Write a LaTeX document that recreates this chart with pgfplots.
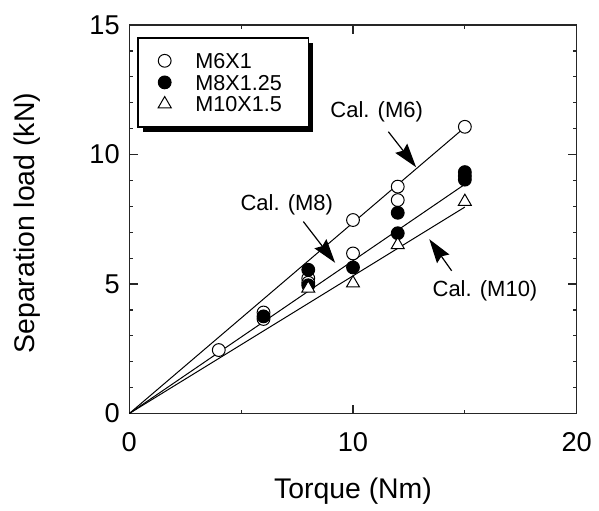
\documentclass[border=0pt]{standalone}
\usepackage{fontspec}
\setmainfont{Liberation Sans}
\usepackage{pgfplots}
\pgfplotsset{compat=1.18}
\usetikzlibrary{arrows.meta,shadows}

\begin{document}
\begin{tikzpicture}
\begin{axis}[
  scale only axis, width=223.7pt, height=194.25pt,
  xmin=0, xmax=20, ymin=0, ymax=15,
  xtick={0,10,20}, minor xtick={5,15},
  ytick={0,5,10,15}, minor ytick={1,2,3,4,6,7,8,9,11,12,13,14},
  tick align=inside, major tick length=4.5pt, minor tick length=2pt,
  axis line style={black!85, line width=0.7pt},
  every tick/.style={black!85, line width=0.6pt},
  /pgf/number format/assume math mode=true,
  tick label style={font=\fontsize{13.6}{16}\selectfont},
  xticklabel style={anchor=center, yshift=-14.5pt},
  yticklabel style={xshift=-1.3pt},
  xlabel={Torque (Nm)}, ylabel={Separation load (kN)},
  every axis x label/.style={at={(axis description cs:0.5,-0.1995)}, anchor=center, font=\fontsize{14.2}{17}\selectfont},
  every axis y label/.style={at={(axis description cs:-0.228,0.49)}, anchor=center, rotate=90, font=\fontsize{14.2}{17}\selectfont},
  legend style={at={(axis description cs:0,1)}, anchor=north west, xshift=4pt, yshift=-6.15pt,
    draw=black, line width=0.7pt, fill=white,
    drop shadow={shadow xshift=2.5pt, shadow yshift=-2.5pt, fill=black, opacity=1},
    inner xsep=8pt, inner ysep=6pt, row sep=0pt, column sep=0pt,
    font=\fontsize{10.8}{12}\selectfont,
    nodes={inner xsep=2pt, inner ysep=1.55pt, text height=7.7pt, text depth=0pt, text width=46.5pt}},
  legend cell align=left,
  legend image code/.code={\path (0pt,0pt) (18pt,0pt);
    \draw[mark repeat=2,mark phase=2,#1] plot coordinates {(-5pt,0pt) (5pt,0pt) (15pt,0pt)};},
]
% calculated lines
\addplot[black, line width=0.5pt, forget plot] coordinates {(0,0) (15,11.05)};
\addplot[black, line width=0.5pt, forget plot] coordinates {(0,0) (15,8.85)};
\addplot[black, line width=0.5pt, forget plot] coordinates {(0,0) (15,7.97)};

% measured
\addplot[only marks, mark=*, mark size=3.2pt, mark options={draw=black, fill=white, line width=0.5pt}]
  coordinates {(4,2.45) (6,3.9) (6,3.65) (8,5.22) (8,5.05) (10,7.47) (10,6.18) (12,8.76) (12,8.24) (15,11.07)};
\addlegendentry{M6X1}
\addplot[only marks, mark=*, mark size=3.2pt, mark options={draw=black, fill=black, line width=0.5pt}]
  coordinates {(6,3.75) (8,5.55) (8,4.95) (10,5.64) (12,7.75) (12,6.96) (15,9.32) (15,9.17) (15,9.03)};
\addlegendentry{M8X1.25}
\addplot[only marks, mark=triangle*, mark size=3.75pt, mark options={draw=black, fill=white, line width=0.5pt}]
  coordinates {(8,4.83) (10,5.03) (12,6.51) (15,8.18)};
\addlegendentry{M10X1.5}

\node[font=\fontsize{11}{13}\selectfont] at (axis cs:11.06,11.65) {Cal. (M6)};
\node[font=\fontsize{11}{13}\selectfont] at (axis cs:7.04,8.05) {Cal. (M8)};
\node[font=\fontsize{11}{13}\selectfont] at (axis cs:15.9,4.74) {Cal. (M10)};
\draw[-{Stealth[length=12pt,width=7.5pt,inset=1.5pt]}, line width=0.6pt] (axis cs:11.58,10.88) -- (axis cs:12.82,9.51);
\draw[-{Stealth[length=12pt,width=7.5pt,inset=1.5pt]}, line width=0.6pt] (axis cs:7.78,7.41) -- (axis cs:9.2,5.82);
\draw[-{Stealth[length=12pt,width=7.5pt,inset=1.5pt]}, line width=0.6pt] (axis cs:14.41,5.51) -- (axis cs:13.41,6.73);
\end{axis}
\path ([xshift=-64.65pt,yshift=-46.25pt]current axis.south west) rectangle ([xshift=11.15pt,yshift=12.5pt]current axis.north east);
\end{tikzpicture}
\end{document}
